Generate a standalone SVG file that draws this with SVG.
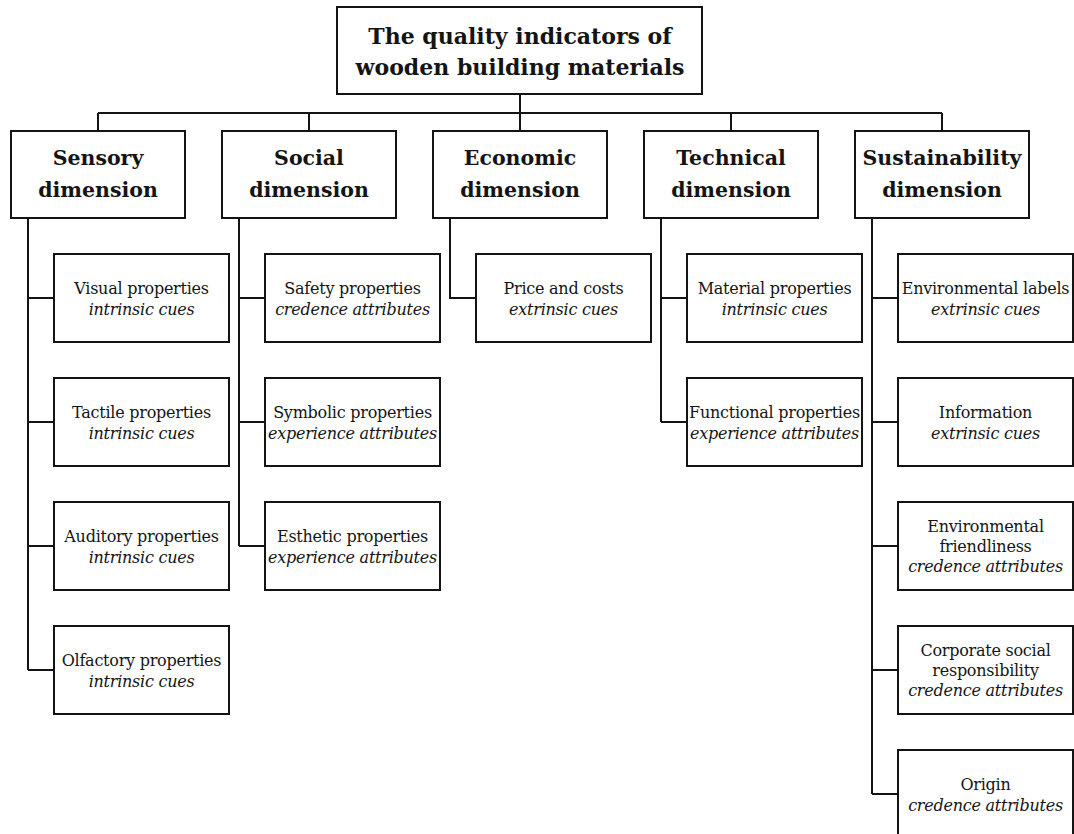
<svg xmlns="http://www.w3.org/2000/svg" width="1074" height="834" viewBox="0 0 1074 834">
  <style>
    .box { fill: #ffffff; stroke: #141414; stroke-width: 2; }
    .wire { fill: none; stroke: #141414; stroke-width: 2; }
    text { font-family: "DejaVu Serif", "Liberation Serif", serif; fill: #141414; text-anchor: middle; }
    .title { font-size: 22px; font-weight: bold; }
    .dim { font-size: 20.5px; font-weight: bold; }
    .item { font-size: 16px; letter-spacing: -0.25px; }
    .cue { font-size: 16px; font-style: italic; letter-spacing: -0.25px; }
  </style>
  <rect width="1074" height="834" fill="#ffffff"/>

  <!-- connectors -->
  <g id="connectors" class="wire">
    <!-- root trunk and bus -->
    <path d="M520 94 V131"/>
    <path d="M98 113 H942"/>
    <path d="M98 113 V131 M309 113 V131 M731 113 V131 M942 113 V131"/>
    <!-- sensory -->
    <path d="M28 218 V670 M28 298 H54 M28 422 H54 M28 546 H54 M28 670 H54"/>
    <!-- social -->
    <path d="M239 218 V546 M239 298 H265 M239 422 H265 M239 546 H265"/>
    <!-- economic -->
    <path d="M450 218 V298 H476"/>
    <!-- technical -->
    <path d="M661 218 V422 M661 298 H687 M661 422 H687"/>
    <!-- sustainability -->
    <path d="M872 218 V794 M872 298 H898 M872 422 H898 M872 546 H898 M872 670 H898 M872 794 H898"/>
  </g>

  <!-- root -->
  <g id="root">
    <rect class="box" x="337" y="7" width="365" height="87"/>
    <text class="title" x="520" y="44">The quality indicators of</text>
    <text class="title" x="520" y="75">wooden building materials</text>
  </g>

  <!-- dimensions -->
  <g id="dim-sensory">
    <rect class="box" x="11" y="131" width="174" height="87"/>
    <text class="dim" x="98" y="165">Sensory</text>
    <text class="dim" x="98" y="197">dimension</text>
  </g>
  <g id="dim-social">
    <rect class="box" x="222" y="131" width="174" height="87"/>
    <text class="dim" x="309" y="165">Social</text>
    <text class="dim" x="309" y="197">dimension</text>
  </g>
  <g id="dim-economic">
    <rect class="box" x="433" y="131" width="174" height="87"/>
    <text class="dim" x="520" y="165">Economic</text>
    <text class="dim" x="520" y="197">dimension</text>
  </g>
  <g id="dim-technical">
    <rect class="box" x="644" y="131" width="174" height="87"/>
    <text class="dim" x="731" y="165">Technical</text>
    <text class="dim" x="731" y="197">dimension</text>
  </g>
  <g id="dim-sustainability">
    <rect class="box" x="855" y="131" width="174" height="87"/>
    <text class="dim" x="942" y="165">Sustainability</text>
    <text class="dim" x="942" y="197">dimension</text>
  </g>

  <!-- sensory items -->
  <g id="visual">
    <rect class="box" x="54" y="254" width="175" height="88"/>
    <text class="item" x="141.5" y="294">Visual properties</text>
    <text class="cue" x="141.5" y="315">intrinsic cues</text>
  </g>
  <g id="tactile">
    <rect class="box" x="54" y="378" width="175" height="88"/>
    <text class="item" x="141.5" y="418">Tactile properties</text>
    <text class="cue" x="141.5" y="439">intrinsic cues</text>
  </g>
  <g id="auditory">
    <rect class="box" x="54" y="502" width="175" height="88"/>
    <text class="item" x="141.5" y="542">Auditory properties</text>
    <text class="cue" x="141.5" y="563">intrinsic cues</text>
  </g>
  <g id="olfactory">
    <rect class="box" x="54" y="626" width="175" height="88"/>
    <text class="item" x="141.5" y="666">Olfactory properties</text>
    <text class="cue" x="141.5" y="687">intrinsic cues</text>
  </g>

  <!-- social items -->
  <g id="safety">
    <rect class="box" x="265" y="254" width="175" height="88"/>
    <text class="item" x="352.5" y="294">Safety properties</text>
    <text class="cue" x="352.5" y="315">credence attributes</text>
  </g>
  <g id="symbolic">
    <rect class="box" x="265" y="378" width="175" height="88"/>
    <text class="item" x="352.5" y="418">Symbolic properties</text>
    <text class="cue" x="352.5" y="439">experience attributes</text>
  </g>
  <g id="esthetic">
    <rect class="box" x="265" y="502" width="175" height="88"/>
    <text class="item" x="352.5" y="542">Esthetic properties</text>
    <text class="cue" x="352.5" y="563">experience attributes</text>
  </g>

  <!-- economic items -->
  <g id="price">
    <rect class="box" x="476" y="254" width="175" height="88"/>
    <text class="item" x="563.5" y="294">Price and costs</text>
    <text class="cue" x="563.5" y="315">extrinsic cues</text>
  </g>

  <!-- technical items -->
  <g id="material">
    <rect class="box" x="687" y="254" width="175" height="88"/>
    <text class="item" x="774.5" y="294">Material properties</text>
    <text class="cue" x="774.5" y="315">intrinsic cues</text>
  </g>
  <g id="functional">
    <rect class="box" x="687" y="378" width="175" height="88"/>
    <text class="item" x="774.5" y="418">Functional properties</text>
    <text class="cue" x="774.5" y="439">experience attributes</text>
  </g>

  <!-- sustainability items -->
  <g id="env-labels">
    <rect class="box" x="898" y="254" width="175" height="88"/>
    <text class="item" x="985.5" y="294">Environmental labels</text>
    <text class="cue" x="985.5" y="315">extrinsic cues</text>
  </g>
  <g id="information">
    <rect class="box" x="898" y="378" width="175" height="88"/>
    <text class="item" x="985.5" y="418">Information</text>
    <text class="cue" x="985.5" y="439">extrinsic cues</text>
  </g>
  <g id="env-friendliness">
    <rect class="box" x="898" y="502" width="175" height="88"/>
    <text class="item" x="985.5" y="532">Environmental</text>
    <text class="item" x="985.5" y="552">friendliness</text>
    <text class="cue" x="985.5" y="572">credence attributes</text>
  </g>
  <g id="csr">
    <rect class="box" x="898" y="626" width="175" height="88"/>
    <text class="item" x="985.5" y="656">Corporate social</text>
    <text class="item" x="985.5" y="676">responsibility</text>
    <text class="cue" x="985.5" y="696">credence attributes</text>
  </g>
  <g id="origin">
    <rect class="box" x="898" y="750" width="175" height="88"/>
    <text class="item" x="985.5" y="790">Origin</text>
    <text class="cue" x="985.5" y="811">credence attributes</text>
  </g>
</svg>
